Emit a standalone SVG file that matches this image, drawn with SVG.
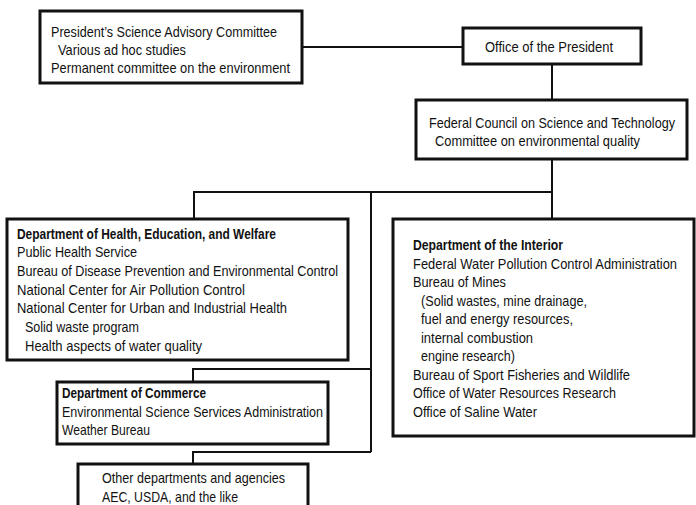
<svg xmlns="http://www.w3.org/2000/svg" width="696" height="505" viewBox="0 0 696 505">
<style>
.box{fill:#fff;stroke:#111;stroke-width:3}
.con{fill:none;stroke:#111;stroke-width:2}
text{font-family:"Liberation Sans","DejaVu Sans",sans-serif;font-size:15px;fill:#111}
.b{font-weight:bold}
</style>
<rect width="696" height="505" fill="#fff"/>
<g id="connectors">
<polyline class="con" points="302,47 463,47"/>
<polyline class="con" points="552,64 552,100"/>
<polyline class="con" points="552,159 552,219"/>
<polyline class="con" points="552,192 194,192 194,219"/>
<polyline class="con" points="371,192 371,452"/>
<polyline class="con" points="371,369 193,369 193,382"/>
<polyline class="con" points="371,452 193,452 193,464"/>
</g>
<g id="psac">
<rect class="box" x="40" y="11" width="262" height="72"/>
<text x="51" y="37" textLength="226" lengthAdjust="spacingAndGlyphs">President’s Science Advisory Committee</text>
<text x="58" y="55" textLength="128" lengthAdjust="spacingAndGlyphs">Various ad hoc studies</text>
<text x="51" y="73" textLength="239" lengthAdjust="spacingAndGlyphs">Permanent committee on the environment</text>
</g>
<g id="office">
<rect class="box" x="463" y="28" width="178" height="36"/>
<text x="485" y="52" textLength="128" lengthAdjust="spacingAndGlyphs">Office of the President</text>
</g>
<g id="fcst">
<rect class="box" x="416" y="100" width="271" height="59"/>
<text x="429" y="128" textLength="246" lengthAdjust="spacingAndGlyphs">Federal Council on Science and Technology</text>
<text x="435" y="146" textLength="205" lengthAdjust="spacingAndGlyphs">Committee on environmental quality</text>
</g>
<g id="hew">
<rect class="box" x="7" y="219" width="341" height="141"/>
<text class="b" x="17" y="239" textLength="259" lengthAdjust="spacingAndGlyphs">Department of Health, Education, and Welfare</text>
<text x="17" y="257" textLength="120" lengthAdjust="spacingAndGlyphs">Public Health Service</text>
<text x="17" y="276" textLength="321" lengthAdjust="spacingAndGlyphs">Bureau of Disease Prevention and Environmental Control</text>
<text x="17" y="295" textLength="228" lengthAdjust="spacingAndGlyphs">National Center for Air Pollution Control</text>
<text x="17" y="313" textLength="270" lengthAdjust="spacingAndGlyphs">National Center for Urban and Industrial Health</text>
<text x="25" y="332" textLength="114" lengthAdjust="spacingAndGlyphs">Solid waste program</text>
<text x="25" y="351" textLength="177" lengthAdjust="spacingAndGlyphs">Health aspects of water quality</text>
</g>
<g id="commerce">
<rect class="box" x="57" y="382" width="271" height="62"/>
<text class="b" x="62" y="398" textLength="144" lengthAdjust="spacingAndGlyphs">Department of Commerce</text>
<text x="62" y="417" textLength="261" lengthAdjust="spacingAndGlyphs">Environmental Science Services Administration</text>
<text x="62" y="435" textLength="88" lengthAdjust="spacingAndGlyphs">Weather Bureau</text>
</g>
<g id="other">
<rect class="box" x="78" y="464" width="230" height="46"/>
<text x="102" y="483" textLength="183" lengthAdjust="spacingAndGlyphs">Other departments and agencies</text>
<text x="102" y="502" textLength="136" lengthAdjust="spacingAndGlyphs">AEC, USDA, and the like</text>
</g>
<g id="interior">
<rect class="box" x="393" y="219" width="301" height="217"/>
<text class="b" x="413" y="250" textLength="150" lengthAdjust="spacingAndGlyphs">Department of the Interior</text>
<text x="413" y="269" textLength="264" lengthAdjust="spacingAndGlyphs">Federal Water Pollution Control Administration</text>
<text x="413" y="287" textLength="93" lengthAdjust="spacingAndGlyphs">Bureau of Mines</text>
<text x="421" y="306" textLength="166" lengthAdjust="spacingAndGlyphs">(Solid wastes, mine drainage,</text>
<text x="421" y="324" textLength="152" lengthAdjust="spacingAndGlyphs">fuel and energy resources,</text>
<text x="421" y="343" textLength="112" lengthAdjust="spacingAndGlyphs">internal combustion</text>
<text x="421" y="361" textLength="94" lengthAdjust="spacingAndGlyphs">engine research)</text>
<text x="413" y="380" textLength="217" lengthAdjust="spacingAndGlyphs">Bureau of Sport Fisheries and Wildlife</text>
<text x="413" y="398" textLength="203" lengthAdjust="spacingAndGlyphs">Office of Water Resources Research</text>
<text x="413" y="417" textLength="124" lengthAdjust="spacingAndGlyphs">Office of Saline Water</text>
</g>
</svg>
